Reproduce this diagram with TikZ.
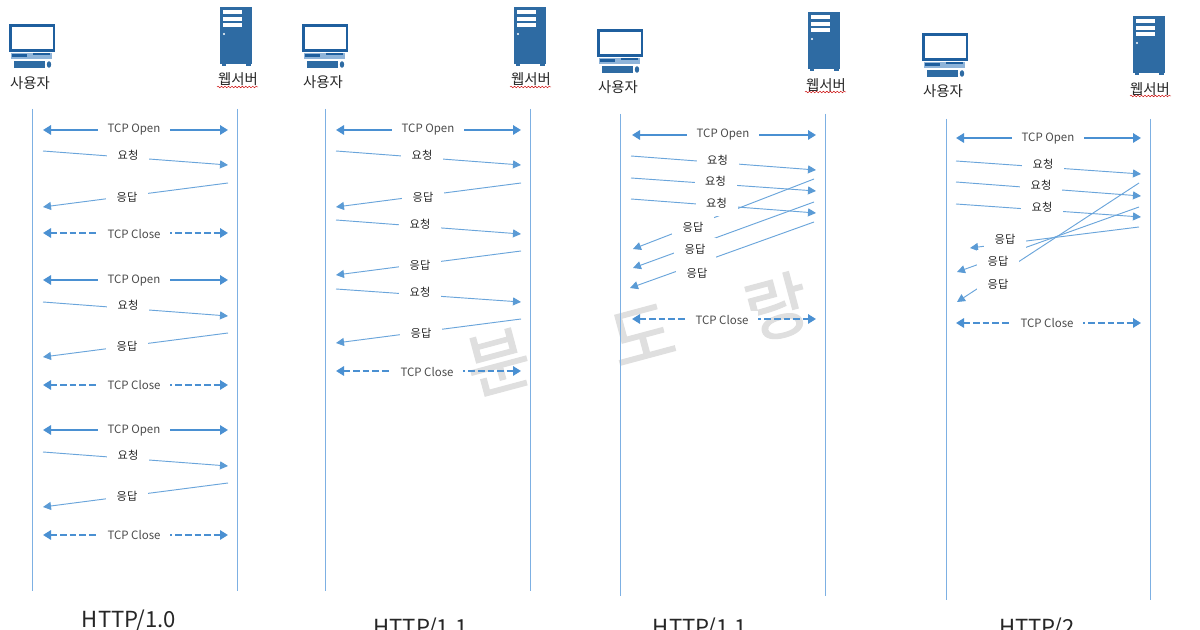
\documentclass[tikz,border=0pt]{standalone}
\usepackage{fontspec}
\setmainfont{Noto Sans CJK KR}
\newfontfamily\wmfont[FakeBold=1.6]{Noto Sans CJK KR}
\usetikzlibrary{arrows.meta,decorations.pathmorphing}
\definecolor{office}{HTML}{6AA5DB}
\definecolor{tipblue}{HTML}{5B9BD5}
\definecolor{thickblue}{HTML}{4A90D2}
\definecolor{lifeblue}{HTML}{7DB0E3}
\definecolor{pcblue}{HTML}{1F5F9E}
\definecolor{srvblue}{HTML}{2E6BA3}
\definecolor{pclight}{HTML}{8FB4D9}
\definecolor{wmgray}{HTML}{DFDFDF}
\pgfdeclarelayer{lines}
\pgfsetlayers{lines,main}
\tikzset{
  x=0.75pt,y=-0.75pt,
  life/.style={draw=lifeblue,line width=0.7pt},
  msgline/.style={draw=office,line width=0.7pt,-{Triangle[length=6pt,width=6pt,color=tipblue]}},
  tcpopen/.style={draw=thickblue,line width=1.9pt,{Triangle[length=6pt,width=7pt]}-{Triangle[length=6pt,width=7pt]}},
  tcpclose/.style={tcpopen,dash pattern=on 5pt off 2.2pt},
  msglab/.style={fill=white,inner sep=0pt,minimum width=31.5pt,minimum height=18pt,yshift=-0.4pt,font=\fontsize{8.4pt}{9pt}\selectfont,text=black!85},
  tcplab/.style={fill=white,inner sep=0pt,minimum width=54pt,minimum height=14pt,yshift=-0.7pt,font=\fontsize{8.6pt}{9pt}\selectfont,text=black!70},
  actor/.style={inner sep=0pt,yshift=-0.7pt,font=\fontsize{10.8pt}{12pt}\selectfont,text=black!85},
  title/.style={inner sep=0pt,anchor=base,font=\fontsize{16.6pt}{20pt}\selectfont,text=black!85},
  squig/.style={draw=red!80!black,line width=0.35pt,decorate,decoration={snake,amplitude=0.6pt,segment length=2.6pt}},
  wm/.style={inner sep=0pt,rotate=15,text=wmgray,font=\wmfont\fontsize{52pt}{54pt}\selectfont},
  pcicon/.pic={
    \fill[pcblue] (0,0) rectangle (46,28);
    \fill[white] (2.5,3) rectangle (44,25.5);
    \fill[pclight] (2,29) rectangle (43,35);
    \fill[pcblue] (3,30) rectangle (18,33);
    \fill[pcblue] (24,29.5) rectangle (41,31);
    \fill[srvblue] (5,37) rectangle (36,44);
    \fill[srvblue] (40,40.5) ellipse (2.2 and 3.3);
  },
  srvicon/.pic={
    \fill[srvblue] (0,0) rectangle (32,57.5);
    \fill[srvblue] (1.5,57) rectangle (6,59);
    \fill[srvblue] (26,57) rectangle (31,59);
    \fill[white] (2.7,3) rectangle (22,7.5);
    \fill[white] (2.7,9.7) rectangle (22,14);
    \fill[white] (2.7,16) rectangle (22,20.5);
    \fill[white] (4,27) circle (1.1);
  },
}
% line style, label style, id, from, to, label position, text
\newcommand\conn[7]{%
  \coordinate (#3a) at (#4);
  \coordinate (#3b) at (#5);
  \node[#2] (#3) at (#6) {#7};
  \begin{pgfonlayer}{lines}\draw[#1] (#3a) -- (#3b);\end{pgfonlayer}}
\newcommand\req[5]{\conn{msgline}{msglab}{#1}{#2}{#3}{#4}{#5}}
\newcommand\topen[4]{\conn{tcpopen}{tcplab}{#1}{#2}{#3}{#4}{TCP Open}}
\newcommand\tclose[4]{\conn{tcpclose}{tcplab}{#1}{#2}{#3}{#4}{TCP Close}}
% id, x-left, x-right, y-top, y-bottom
\newcommand\lifelines[5]{%
  \coordinate (#1ut) at (#2,#4); \coordinate (#1ub) at (#2,#5);
  \coordinate (#1st) at (#3,#4); \coordinate (#1sb) at (#3,#5);
  \begin{pgfonlayer}{lines}\draw[life] (#1ut) -- (#1ub); \draw[life] (#1st) -- (#1sb);\end{pgfonlayer}}
\begin{document}
\begin{tikzpicture}
\useasboundingbox (0,0) rectangle (1200,630);
\begin{pgfonlayer}{lines}
\fill[white] (0,0) rectangle (1200,630);
% ---------- watermark
\node[wm] (w1) at (498,362) {분};
\node[wm] (w2) at (642,335) {도};
\node[wm] (w3) at (777,307) {랑};
\end{pgfonlayer}
\clip (0,0) rectangle (1200,630);

% ---------- column 1: HTTP/1.0
\pic at (9,24) {pcicon};
\pic at (220,7) {srvicon};
\node[actor] (ua) at (30,82) {사용자};
\node[actor] (sa) at (238,78) {웹서버};
\draw[squig] (217,87) -- (258,87);
\lifelines{a}{32}{237}{109}{591}
\topen{ao1}{43,130}{228,130}{134,128.5}
\req{ar1}{43,151}{228,165}{128,155}{요청}
\req{ap1}{228,183}{43,207}{127,197}{응답}
\tclose{ac1}{43,233}{228,233}{134,233}
\topen{ao2}{43,280}{228,280}{134,279.5}
\req{ar2}{43,302}{228,316}{128,305}{요청}
\req{ap2}{228,333}{43,357}{127,346}{응답}
\tclose{ac2}{43,385}{228,385}{134,384.5}
\topen{ao3}{43,430}{228,430}{134,429.5}
\req{ar3}{43,452}{228,466}{128,455}{요청}
\req{ap3}{228,483}{43,507}{127,496}{응답}
\tclose{ac3}{43,535}{228,535}{134,534.5}
\node[title] (ta) at (129,628) {HTTP/1.0};

% ---------- column 2: HTTP/1.1
\pic at (302,24) {pcicon};
\pic at (514,7) {srvicon};
\node[actor] (ub) at (323,81) {사용자};
\node[actor] (sb) at (531,78) {웹서버};
\draw[squig] (510,87) -- (551,87);
\lifelines{b}{325.5}{530.5}{109}{591}
\topen{bo1}{336,130}{521,130}{428,128.5}
\req{br1}{336,151}{521,165}{422,155}{요청}
\req{bp1}{521,183}{336,207}{423,197}{응답}
\req{br2}{336,220}{521,234}{420,224}{요청}
\req{bp2}{521,251}{336,275}{420,265}{응답}
\req{br3}{336,289}{521,302}{420,292}{요청}
\req{bp3}{521,319}{336,343}{421,333}{응답}
\tclose{bc1}{336,371}{521,371}{427,371}
\node[title] (tb) at (420.5,636) {HTTP/1.1};

% ---------- column 3: HTTP/1.1 pipelining
\pic at (597,29) {pcicon};
\pic at (808,12) {srvicon};
\node[actor] (uc) at (618,86) {사용자};
\node[actor] (sc) at (826,84) {웹서버};
\draw[squig] (805,92) -- (846,92);
\lifelines{c}{620}{825}{114}{596}
\topen{co1}{632,135}{816,135}{723,133.5}
\req{cp1}{814,179}{633,249}{693,227}{응답}
\req{cp2}{814,202}{633,268}{695,249}{응답}
\req{cp3}{814,222}{630,288}{697,273}{응답}
\req{cr1}{631,156}{816,170}{717.5,160}{요청}
\req{cr2}{631,178}{816,191}{715.5,181}{요청}
\req{cr3}{631,199}{816,213}{716.5,203}{요청}
\tclose{cc1}{632,319}{816,319}{722,319}
\node[title] (tc) at (700,636) {HTTP/1.1};

% ---------- column 4: HTTP/2
\pic at (922,33) {pcicon};
\pic at (1133,16) {srvicon};
\node[actor] (ud) at (943,90) {사용자};
\node[actor] (sd) at (1150,88) {웹서버};
\draw[squig] (1130,96) -- (1171,96);
\lifelines{d}{946}{1150.5}{119}{600}
\topen{do1}{956,138}{1141,138}{1048,138}
\req{dr1}{956,161}{1141,174}{1043,164}{요청}
\req{dr2}{956,182}{1141,196}{1041,185}{요청}
\req{dr3}{956,204}{1141,217}{1042,207}{요청}
\req{dp1}{1139,227}{970,248}{1005,239}{응답}
\req{dp2}{1139,207}{957,272}{998,261}{응답}
\req{dp3}{1139,183}{957,302}{998,284}{응답}
\tclose{dc1}{956,323}{1141,323}{1047,322.5}
\node[title] (td) at (1037,636) {HTTP/2};
\end{tikzpicture}
\end{document}
